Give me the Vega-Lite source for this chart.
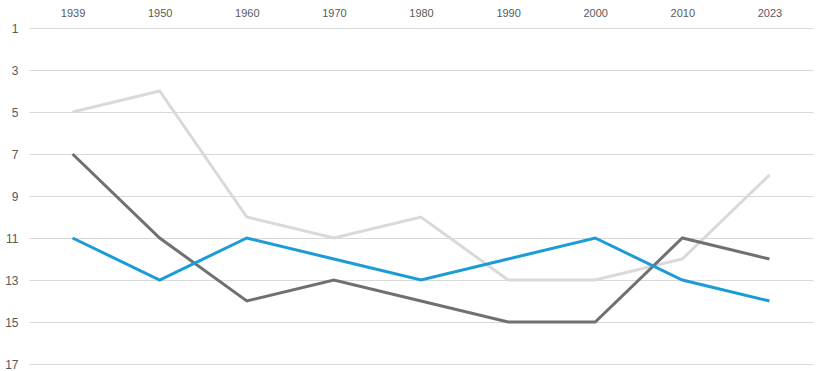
{
  "$schema": "https://vega.github.io/schema/vega-lite/v6.json",
  "width": 784,
  "height": 336,
  "autosize": {"type": "none"},
  "padding": {"left": 29, "top": 28, "right": 9, "bottom": 7},
  "background": "white",
  "config": {"view": {"stroke": null}, "font": "Liberation Sans"},
  "data": {
    "values": [
      {"year": "1939", "series": "A", "rank": 5},
      {"year": "1950", "series": "A", "rank": 4},
      {"year": "1960", "series": "A", "rank": 10},
      {"year": "1970", "series": "A", "rank": 11},
      {"year": "1980", "series": "A", "rank": 10},
      {"year": "1990", "series": "A", "rank": 13},
      {"year": "2000", "series": "A", "rank": 13},
      {"year": "2010", "series": "A", "rank": 12},
      {"year": "2023", "series": "A", "rank": 8},
      {"year": "1939", "series": "B", "rank": 7},
      {"year": "1950", "series": "B", "rank": 11},
      {"year": "1960", "series": "B", "rank": 14},
      {"year": "1970", "series": "B", "rank": 13},
      {"year": "1980", "series": "B", "rank": 14},
      {"year": "1990", "series": "B", "rank": 15},
      {"year": "2000", "series": "B", "rank": 15},
      {"year": "2010", "series": "B", "rank": 11},
      {"year": "2023", "series": "B", "rank": 12},
      {"year": "1939", "series": "C", "rank": 11},
      {"year": "1950", "series": "C", "rank": 13},
      {"year": "1960", "series": "C", "rank": 11},
      {"year": "1970", "series": "C", "rank": 12},
      {"year": "1980", "series": "C", "rank": 13},
      {"year": "1990", "series": "C", "rank": 12},
      {"year": "2000", "series": "C", "rank": 11},
      {"year": "2010", "series": "C", "rank": 13},
      {"year": "2023", "series": "C", "rank": 14}
    ]
  },
  "mark": {"type": "line", "strokeWidth": 3, "strokeJoin": "miter"},
  "encoding": {
    "x": {
      "field": "year",
      "type": "ordinal",
      "scale": {"type": "point", "padding": 0.5},
      "axis": {
        "orient": "top",
        "title": null,
        "domain": false,
        "ticks": false,
        "grid": false,
        "labelAngle": 0,
        "labelFontSize": 11,
        "labelColor": "#595959",
        "labelPadding": 10
      }
    },
    "y": {
      "field": "rank",
      "type": "quantitative",
      "scale": {"domain": [1, 17], "reverse": true, "nice": false, "zero": false},
      "axis": {
        "title": null,
        "values": [1, 3, 5, 7, 9, 11, 13, 15, 17],
        "domain": false,
        "ticks": false,
        "grid": true,
        "gridColor": "#d9d9d9",
        "gridWidth": 1,
        "labelFontSize": 12,
        "labelColor": "#595959",
        "labelPadding": 11
      }
    },
    "color": {
      "field": "series",
      "type": "nominal",
      "scale": {"domain": ["A", "B", "C"], "range": ["#d9d9d9", "#707070", "#1b9bd7"]},
      "legend": null
    },
    "order": {"field": "year"}
  }
}
